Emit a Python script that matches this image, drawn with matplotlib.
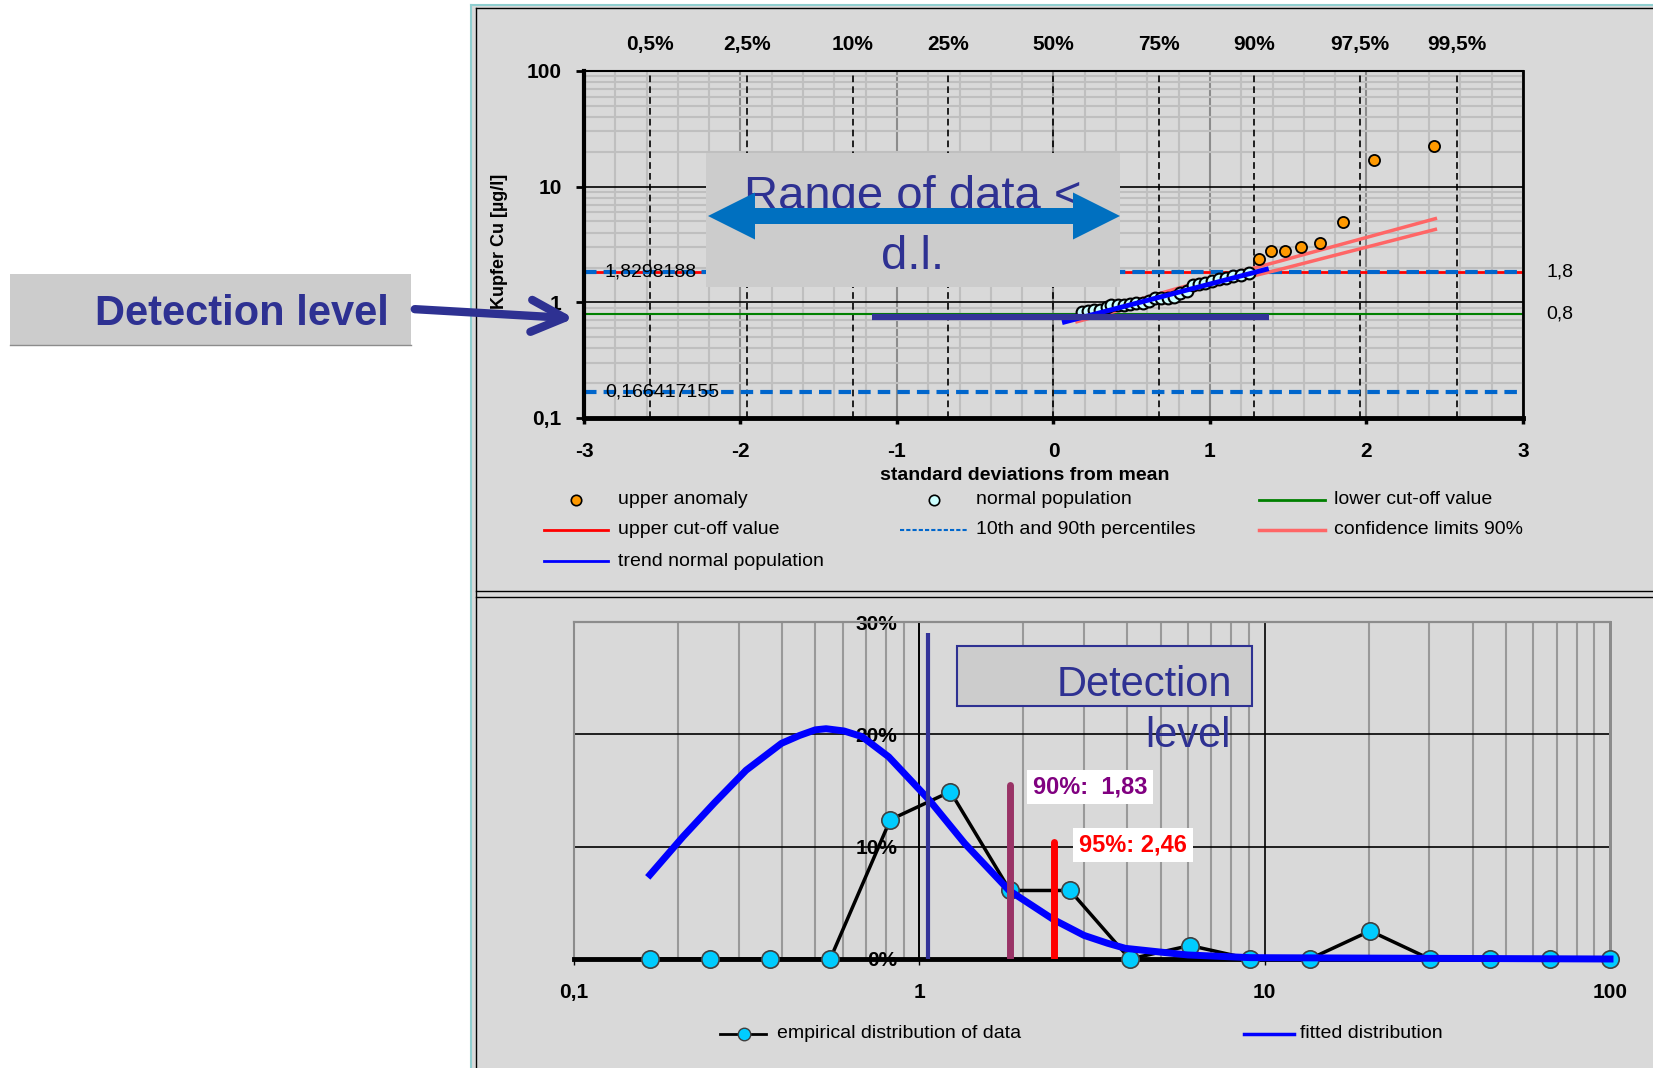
import numpy as np
import matplotlib
matplotlib.use('Agg')
import matplotlib.pyplot as plt
from matplotlib.lines import Line2D
from matplotlib.patches import Rectangle, FancyArrow, FancyArrowPatch
from matplotlib.transforms import Affine2D
from matplotlib.ticker import LogLocator, NullFormatter

plt.rcParams['font.family'] = ['Liberation Sans', 'DejaVu Sans']

# ---------------- data: probability plot (top) ----------------
pct_labels = ['0,5%', '2,5%', '10%', '25%', '50%', '75%', '90%', '97,5%', '99,5%']
pct_z = [-2.576, -1.960, -1.282, -0.674, 0.0, 0.674, 1.282, 1.960, 2.576]

normal_z = [0.18, 0.22, 0.26, 0.30, 0.34, 0.37, 0.41, 0.45, 0.49, 0.53, 0.57, 0.61, 0.65, 0.69,
            0.73, 0.77, 0.81, 0.85, 0.89, 0.93, 0.97, 1.01, 1.06, 1.10, 1.15, 1.20, 1.25]
normal_v = [0.83, 0.84, 0.85, 0.86, 0.92, 0.94, 0.95, 0.95, 0.96, 0.98, 0.99, 1.02, 1.08, 1.10,
            1.10, 1.12, 1.20, 1.25, 1.42, 1.43, 1.46, 1.53, 1.58, 1.63, 1.69, 1.71, 1.80]

upper_z = [1.31, 1.39, 1.48, 1.58, 1.70, 1.85, 2.05, 2.43]
upper_v = [2.39, 2.78, 2.78, 2.99, 3.28, 4.98, 17.0, 22.4]

trend_z = [0.07, 1.36]
trend_v = [0.676, 1.93]

conf_z = [0.15, 0.80, 1.45, 2.44]
conf_up = [0.74, 1.33, 2.28, 5.29]
conf_lo = [0.68, 1.18, 1.93, 4.27]

upper_cutoff = 1.8298188
lower_cutoff = 0.8
p10 = 0.166417155
p90 = 1.8298188

dl_bar_z = [-1.16, 1.375]
dl_bar_v = 0.75

# ---------------- data: distribution (bottom) ----------------
bin_x = [0.166, 0.248, 0.370, 0.552, 0.824, 1.23, 1.83, 2.73, 4.07, 6.08, 9.07,
         13.5, 20.2, 30.1, 44.9, 67.0, 100]
emp_pct = [0, 0, 0, 0, 12.4, 14.9, 6.1, 6.1, 0, 1.2, 0, 0, 2.5, 0, 0, 0, 0]

fit_x = [0.166, 0.207, 0.255, 0.315, 0.399, 0.45, 0.50, 0.537, 0.605, 0.682, 0.815, 1.065,
         1.352, 1.82, 2.45, 3.0, 3.51, 3.95, 5.98, 9.08, 100]
fit_pct = [7.5, 10.9, 13.9, 16.8, 19.2, 19.9, 20.4, 20.5, 20.3, 19.8, 18.0, 14.2,
           10.3, 6.1, 3.5, 2.1, 1.4, 0.95, 0.36, 0.12, 0.0]

dl_value, dl_top = 1.06, 29.0
q90_value, q90_top = 1.83, 15.5
q95_value, q95_top = 2.46, 10.4

navy = '#2e3192'
W, H = 1653, 1068

fig = plt.figure(figsize=(W / 100, H / 100), dpi=100)
fig.patch.set_facecolor('white')
tpx = Affine2D().scale(1 / W, -1 / H).translate(0, 1) + fig.transFigure


def fbox(l, t, r, b):
    return [l / W, 1 - b / H, (r - l) / W, (b - t) / H]


def fline(xs, ys, **kw):
    fig.add_artist(Line2D(xs, ys, transform=tpx, **kw))


# gray panel and borders
fig.add_artist(Rectangle((471, 5), W - 471, H - 5, transform=tpx, fc='#d9d9d9', ec='none', zorder=-10))
fline([471, 471], [5, H], color='#8fcfd0', lw=1.5, zorder=-9)
fline([471, W], [5, 5], color='#8fcfd0', lw=1.5, zorder=-9)
fline([476, 476], [8, H], color='black', lw=1.0, zorder=-9)
fline([476, W], [8, 8], color='black', lw=1.0, zorder=-9)
fline([476, W], [591, 591], color='black', lw=1.0, zorder=-9)
fline([476, W], [597, 597], color='black', lw=1.0, zorder=-9)

# ================= top chart =================
ax = fig.add_axes(fbox(584, 71, 1523, 418))
ax.set_facecolor('none')
ax.set_xlim(-3, 3)
ax.set_yscale('log')
ax.set_ylim(0.1, 100)
ax.set_xticks(range(-3, 4))
ax.set_xticklabels([str(i) for i in range(-3, 4)], fontsize=15, fontweight='bold')
ax.set_xticks(np.arange(-3, 3.01, 0.2), minor=True)
ax.set_yticks([0.1, 1, 10, 100])
ax.set_yticklabels(['0,1', '1', '10', '100'], fontsize=15, fontweight='bold')
ax.yaxis.set_minor_locator(LogLocator(subs=range(2, 10)))
ax.yaxis.set_minor_formatter(NullFormatter())
ax.tick_params(which='minor', length=0)
ax.tick_params(axis='x', which='major', length=4.5, width=2.5, pad=13)
ax.tick_params(axis='y', which='major', length=6, width=2, pad=10)
ax.grid(which='minor', axis='x', color='#bfbfbf', lw=1.5)
ax.grid(which='major', axis='x', color='#8c8c8c', lw=1.5)
ax.grid(which='minor', axis='y', color='#bfbfbf', lw=1.5)
ax.grid(which='major', axis='y', color='black', lw=1.2)
ax.set_axisbelow(True)
for s, w in (('bottom', 3.5), ('left', 3), ('top', 1.5), ('right', 2)):
    ax.spines[s].set_linewidth(w)
    ax.spines[s].set_color('black')

for z in pct_z:
    ax.axvline(z, color='black', lw=1.2, ls=(0, (4, 2.5)), zorder=1.5)

sec = ax.secondary_xaxis('top')
sec.set_xticks(pct_z)
sec.set_xticklabels(pct_labels, fontsize=15, fontweight='bold')
sec.tick_params(length=0, pad=12)
sec.spines['top'].set_visible(False)

ax.axhline(upper_cutoff, color='red', lw=2, zorder=2)
ax.axhline(p90, color='#0066cc', lw=3, ls=(0, (3, 1.7)), zorder=2.1)
ax.axhline(p10, color='#0066cc', lw=3, ls=(0, (3, 1.7)), zorder=2.1)
ax.axhline(lower_cutoff, color='#008000', lw=1.5, zorder=2)
ax.plot(conf_z, conf_up, color='#ff6666', lw=2.5, zorder=2.2)
ax.plot(conf_z, conf_lo, color='#ff6666', lw=2.5, zorder=2.2)
ax.plot(normal_z, normal_v, 'o', mfc='#ccffff', mec='black', ms=8.5, mew=1.5, zorder=3)
ax.plot(upper_z, upper_v, 'o', mfc='#ff9900', mec='black', ms=8, mew=1.3, zorder=3)
ax.plot(trend_z, trend_v, color='#0000ff', lw=3.5, zorder=4)
ax.hlines(dl_bar_v, dl_bar_z[0], dl_bar_z[1], color='#333399', lw=4.5, zorder=5)

ax.text(-2.866, p90, '1,8298188', fontsize=14, va='center', zorder=6)
ax.text(-2.866, p10, '0,166417155', fontsize=14, va='center', zorder=6)
ax.text(1.0245, p90, '1,8', fontsize=14, va='center', transform=ax.get_yaxis_transform())
ax.text(1.0245, lower_cutoff, '0,8', fontsize=14, va='center', transform=ax.get_yaxis_transform())

fig.text(500, 241, 'Kupfer Cu [µg/l]', transform=tpx, rotation=90, ha='center', va='center',
         fontsize=13, fontweight='bold')
fig.text(1025, 475, 'standard deviations from mean', transform=tpx, ha='center', va='center',
         fontsize=14, fontweight='bold')

# top legend (manual, three columns)
fig.add_artist(Line2D([576], [500], transform=tpx, marker='o', ls='none', mfc='#ff9900', mec='black', ms=7.5, mew=1.2))
fig.text(618, 500, 'upper anomaly', transform=tpx, va='center', fontsize=14)
fline([544, 608], [530, 530], color='red', lw=2)
fig.text(618, 530, 'upper cut-off value', transform=tpx, va='center', fontsize=14)
fline([544, 608], [561, 561], color='#0000ff', lw=2)
fig.text(618, 561, 'trend normal population', transform=tpx, va='center', fontsize=14)
fig.add_artist(Line2D([934], [500], transform=tpx, marker='o', ls='none', mfc='#ccffff', mec='black', ms=7.5, mew=1.2))
fig.text(976, 500, 'normal population', transform=tpx, va='center', fontsize=14)
fline([900, 968], [530, 530], color='#0066cc', lw=1.5, ls=(0, (2, 1)))
fig.text(976, 530, '10th and 90th percentiles', transform=tpx, va='center', fontsize=14)
fline([1259, 1325], [500, 500], color='#008000', lw=2)
fig.text(1334, 500, 'lower cut-off value', transform=tpx, va='center', fontsize=14)
fline([1259, 1325], [530, 530], color='#ff6666', lw=2.5)
fig.text(1334, 530, 'confidence limits 90%', transform=tpx, va='center', fontsize=14)

# "Range of data < d.l." annotation
fig.add_artist(Rectangle((706, 153), 414, 134, transform=tpx, fc='#cccccc', ec='none', zorder=5))
fig.text(913, 209, 'Range of data <', transform=tpx, ha='center', va='baseline', fontsize=34,
         color=navy, zorder=6)
fig.text(913, 269, 'd.l.', transform=tpx, ha='center', va='baseline', fontsize=34, color=navy, zorder=6)
for dx in (-206, 206):
    fig.add_artist(FancyArrow(914, 216, dx, 0, width=16, head_width=47, head_length=47,
                              length_includes_head=True, transform=tpx, fc='#0070c0', ec='none', zorder=7))

# left "Detection level" box with arrow
fig.add_artist(Rectangle((10, 274), 401, 71, transform=tpx, fc='#cccccc', ec='none', zorder=5))
fline([10, 411], [345, 345], color='#8c8c8c', lw=1, zorder=5)
fig.text(389, 325, 'Detection level', transform=tpx, ha='right', va='baseline', fontsize=30,
         fontweight='bold', color=navy, zorder=6)
fig.add_artist(FancyArrowPatch((412, 309), (577, 318.5), transform=tpx,
                               arrowstyle='->,head_length=24,head_width=11.5', mutation_scale=1,
                               lw=6, color=navy, capstyle='round', joinstyle='round', zorder=8))

# ================= bottom chart =================
ax2 = fig.add_axes(fbox(574, 622, 1610, 959))
ax2.set_facecolor('none')
ax2.spines['left'].set_position(('data', 1))
ax2.set_xscale('log')
ax2.set_xlim(0.1, 100)
ax2.set_ylim(0, 30)
ax2.set_xticks([0.1, 1, 10, 100])
ax2.set_xticklabels(['0,1', '1', '10', '100'], fontsize=15, fontweight='bold')
ax2.xaxis.set_minor_locator(LogLocator(subs=range(2, 10)))
ax2.xaxis.set_minor_formatter(NullFormatter())
ax2.set_yticks([0, 10, 20, 30])
ax2.set_yticklabels(['0%', '10%', '20%', '30%'], fontsize=15, fontweight='bold')
ax2.tick_params(which='minor', length=0)
ax2.tick_params(axis='x', which='major', length=4, width=1, pad=13)
ax2.tick_params(axis='y', length=0, pad=16)
ax2.grid(which='minor', axis='x', color='#999999', lw=1.5)
ax2.grid(which='major', axis='x', color='black', lw=1.2)
ax2.grid(which='major', axis='y', color='black', lw=1.2)
ax2.set_axisbelow(True)
ax2.spines['left'].set_linewidth(1.2)
ax2.spines['bottom'].set_linewidth(3.5)
ax2.spines['top'].set_color('#8c8c8c')
ax2.spines['top'].set_linewidth(1.5)
ax2.spines['right'].set_color('#8c8c8c')
ax2.spines['right'].set_linewidth(2)
ax2.axhline(30, color='#8c8c8c', lw=1.5, clip_on=False, zorder=1)
ax2.axvline(0.1, color='#8c8c8c', lw=1.5, clip_on=False, zorder=1)
ax2.axvline(100, color='#8c8c8c', lw=2, clip_on=False, zorder=1)

ax2.plot(bin_x, emp_pct, '-o', color='black', lw=2.5, mfc='#00ccff', mec='#404040', ms=12.5,
         mew=1.2, clip_on=False, zorder=3)
ax2.plot(fit_x, fit_pct, color='#0000ff', lw=5, clip_on=False, zorder=4)
ax2.vlines(dl_value, 0, dl_top, color='#333399', lw=3, zorder=5)
ax2.vlines(q90_value, 0, q90_top, color='#993366', lw=5, capstyle='round', zorder=5)
ax2.vlines(q95_value, 0, q95_top, color='#ff0000', lw=5, capstyle='round', zorder=5)

fig.text(1033, 787, '90%:  1,83', transform=tpx, va='center', fontsize=17, fontweight='bold',
         color='#800080', zorder=6, bbox=dict(boxstyle='square,pad=0.25', fc='white', ec='none'))
fig.text(1079, 845, '95%: 2,46', transform=tpx, va='center', fontsize=17, fontweight='bold',
         color='#ff0000', zorder=6, bbox=dict(boxstyle='square,pad=0.25', fc='white', ec='none'))

fig.add_artist(Rectangle((957, 646), 295, 60, transform=tpx, fc='#cccccc', ec=navy, lw=1.5, zorder=5))
fig.text(1232, 696, 'Detection', transform=tpx, ha='right', va='baseline', fontsize=30, color=navy, zorder=6)
fig.text(1231, 747, 'level', transform=tpx, ha='right', va='baseline', fontsize=30, color=navy, zorder=6)

# bottom legend
fline([720, 766], [1034, 1034], color='black', lw=2)
fig.add_artist(Line2D([744], [1034], transform=tpx, marker='o', ls='none', mfc='#00ccff', mec='#404040', ms=9, mew=1))
fig.text(777, 1034, 'empirical distribution of data', transform=tpx, va='center', fontsize=14)
fline([1244, 1294], [1034, 1034], color='#0000ff', lw=2.5)
fig.text(1300, 1034, 'fitted distribution', transform=tpx, va='center', fontsize=14)

fig.savefig('out.png', dpi=100)
